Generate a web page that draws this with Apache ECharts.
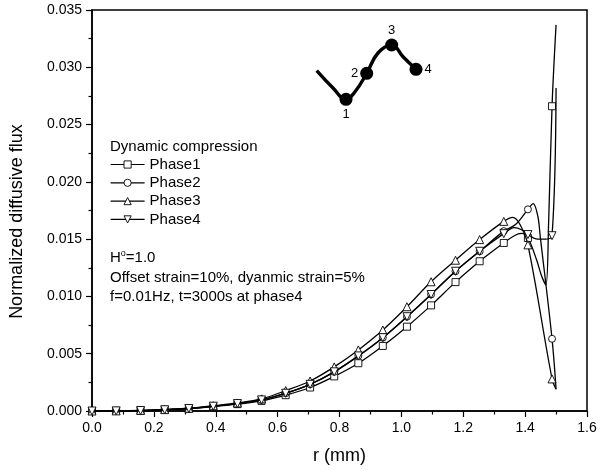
<!DOCTYPE html>
<html>
<head>
<meta charset="utf-8">
<script src="https://cdn.jsdelivr.net/npm/echarts@6/dist/echarts.min.js"></script>
<style>
  html, body { margin: 0; padding: 0; background: #fff; }
  #main { width: 600px; height: 470px; }
</style>
</head>
<body>
<div id="main"></div>
<script type="text/javascript">
// radial positions of the plotted markers (mm)
var rMarks = [0, 0.078, 0.157, 0.235, 0.313, 0.392, 0.470, 0.548, 0.626, 0.705,
              0.783, 0.861, 0.940, 1.018, 1.096, 1.175, 1.253, 1.331, 1.409, 1.487];

// normalized diffusive flux at the markers
var phase1 = [0, 0.00001, 0.00004, 0.0001, 0.0002, 0.00038, 0.0006, 0.00088, 0.00138, 0.00205,
              0.00302, 0.00417, 0.00568, 0.00736, 0.00922, 0.01125, 0.01307, 0.01467, 0.0151, 0.0266];
var phase2 = [0, 0.00001, 0.00004, 0.00011, 0.00022, 0.00042, 0.00065, 0.00097, 0.00155, 0.00233,
              0.00342, 0.00481, 0.0064, 0.00823, 0.01017, 0.0122, 0.01394, 0.0157, 0.0176, 0.0063];
var phase3 = [0, 0.00001, 0.00005, 0.00012, 0.00024, 0.00046, 0.0007, 0.00106, 0.00178, 0.00262,
              0.00385, 0.00533, 0.00707, 0.0091, 0.01128, 0.01316, 0.01496, 0.01655, 0.0145, 0.0028];
var phase4 = [0, 0.00001, 0.00004, 0.00011, 0.00022, 0.00042, 0.00065, 0.00097, 0.00155, 0.00233,
              0.00342, 0.00481, 0.0064, 0.00823, 0.01017, 0.0122, 0.01394, 0.01548, 0.0154, 0.0153];

// extra curve points between markers near the edge (no marker drawn)
var tail1R = [1.365, 1.388, 1.437, 1.453, 1.467, 1.476, 1.5];
var tail1V = [0.0153, 0.0155, 0.0132, 0.0118, 0.0110, 0.0165, 0.0337];
var tail2R = [1.37, 1.426, 1.441, 1.449, 1.5];
var tail2V = [0.0163, 0.0181, 0.0170, 0.0152, 0.0019];
var tail3R = [1.36, 1.383, 1.5];
var tail3V = [0.0169, 0.0163, 0.0019];
var tail4R = [1.365, 1.39, 1.44, 1.465, 1.5];
var tail4V = [0.0160, 0.0158, 0.0150, 0.0150, 0.0282];

var seriesNames = ['Phase1', 'Phase2', 'Phase3', 'Phase4'];
var xTicks = ['0.0', '0.2', '0.4', '0.6', '0.8', '1.0', '1.2', '1.4', '1.6'];

// inset sketch of the loading wave (arbitrary units)
var insetX = [6.7, 23, 36, 45, 56.7, 68, 81.7, 93, 106];
var insetY = [40.7, 58, 69.3, 61.7, 43.3, 23, 15, 26.7, 39.3];
var insetDots = [2, 4, 6, 8];
var insetLabels = ['1', '2', '3', '4'];

var FONT = 'Arial, "Liberation Sans", sans-serif';

function buildData(vals, tailR, tailV) {
    var pts = [];
    for (var i = 0; i < rMarks.length; i++) {
        pts.push({ value: [rMarks[i], vals[i]] });
    }
    for (var j = 0; j < tailR.length; j++) {
        pts.push({ value: [tailR[j], tailV[j]], symbolSize: 0 });
    }
    pts.sort(function (a, b) { return a.value[0] - b.value[0]; });
    return pts;
}

var myChart = echarts.init(document.getElementById('main'), null, { renderer: 'canvas' });

var symbols = ['rect', 'circle', 'triangle', 'path://M0,0 L10,0 L5,9 Z'];
var sizes = [7, 7, 8, 8];
var datas = [
    buildData(phase1, tail1R, tail1V),
    buildData(phase2, tail2R, tail2V),
    buildData(phase3, tail3R, tail3V),
    buildData(phase4, tail4R, tail4V)
];

var series = [];
for (var k = 0; k < 4; k++) {
    series.push({
        name: seriesNames[k],
        type: 'line',
        xAxisIndex: 0,
        yAxisIndex: 0,
        smooth: 0.35,
        showAllSymbol: true,
        symbol: symbols[k],
        symbolSize: sizes[k],
        lineStyle: { color: '#000', width: 1.3 },
        itemStyle: { color: '#fff', borderColor: '#000', borderWidth: 0.9 },
        data: datas[k],
        z: 3 + k
    });
}

// inset wave
var insetLine = [];
for (var m = 0; m < insetX.length; m++) insetLine.push([insetX[m], insetY[m]]);
series.push({
    type: 'line',
    xAxisIndex: 1,
    yAxisIndex: 1,
    smooth: 0.45,
    symbol: 'none',
    lineStyle: { color: '#000', width: 3.4 },
    data: insetLine,
    silent: true
});
var labelPos = ['bottom', 'left', 'top', 'right'];
var dotData = insetDots.map(function (idx, n) {
    return {
        value: [insetX[idx], insetY[idx]],
        label: { show: true, formatter: insetLabels[n], position: labelPos[n], distance: 2,
                 color: '#000', fontSize: 13, fontFamily: FONT }
    };
});
series.push({
    type: 'scatter',
    xAxisIndex: 1,
    yAxisIndex: 1,
    symbol: 'circle',
    symbolSize: 13,
    itemStyle: { color: '#000', opacity: 1 },
    data: dotData,
    silent: true,
    z: 10
});

var option = {
    animation: false,
    backgroundColor: '#fff',
    textStyle: { fontFamily: FONT },
    legend: {
        data: seriesNames,
        orient: 'vertical',
        left: 110,
        top: 157,
        padding: 0,
        itemWidth: 34,
        itemHeight: 9,
        itemGap: 3.3,
        lineStyle: { width: 1.2 },
        itemStyle: { borderWidth: 0.9 },
        textStyle: { color: '#000', fontSize: 15, fontFamily: FONT },
        selectedMode: false
    },
    graphic: [
        { type: 'text', left: 110, top: 139,
          style: { text: 'Dynamic compression', fill: '#000', font: '15px ' + FONT } },
        { type: 'text', left: 110, top: 249,
          style: { text: 'H{s|o}=1.0', fill: '#000', font: '15px ' + FONT,
                   rich: { s: { fontSize: 9, verticalAlign: 'top', padding: [0, 0, 8, 0], fontFamily: FONT } } } },
        { type: 'text', left: 110, top: 270,
          style: { text: 'Offset strain=10%, dyanmic strain=5%', fill: '#000', font: '15px ' + FONT } },
        { type: 'text', left: 110, top: 289,
          style: { text: 'f=0.01Hz, t=3000s at phase4', fill: '#000', font: '15px ' + FONT } }
    ],
    grid: [
        { left: 92, right: 13, top: 10, bottom: 58, show: true, borderColor: '#000', borderWidth: 1.5 },
        { left: 310, top: 30, width: 120, height: 80 }
    ],
    xAxis: [
        {
            type: 'value', gridIndex: 0, min: 0, max: 1.6, interval: 0.2,
            name: 'r (mm)', nameLocation: 'middle', nameGap: 36,
            nameTextStyle: { color: '#000', fontSize: 18, fontFamily: FONT },
            axisLine: { lineStyle: { color: '#000', width: 1.5 } },
            axisTick: { show: true, length: 6, lineStyle: { color: '#000', width: 1.2 } },
            minorTick: { show: true, splitNumber: 2, length: 3.5, lineStyle: { color: '#000', width: 1.2 } },
            splitLine: { show: false },
            axisLabel: { color: '#000', fontSize: 14, margin: 10, fontFamily: FONT,
                         formatter: function (v) { return xTicks[Math.round(v / 0.2)]; } }
        },
        { type: 'value', gridIndex: 1, min: 0, max: 120, show: false }
    ],
    yAxis: [
        {
            type: 'value', gridIndex: 0, min: 0, max: 0.035, interval: 0.005,
            name: 'Normalized diffusive flux', nameLocation: 'middle', nameGap: 66,
            nameTextStyle: { color: '#000', fontSize: 18, fontFamily: FONT, padding: [0, 22, 0, 0] },
            axisLine: { show: true, lineStyle: { color: '#000', width: 1.5 } },
            axisTick: { show: true, length: 6, lineStyle: { color: '#000', width: 1.2 } },
            minorTick: { show: true, splitNumber: 2, length: 3.5, lineStyle: { color: '#000', width: 1.2 } },
            splitLine: { show: false },
            axisLabel: { color: '#000', fontSize: 14, margin: 10, fontFamily: FONT,
                         formatter: function (v) { return v.toFixed(3); } }
        },
        { type: 'value', gridIndex: 1, min: 0, max: 80, inverse: true, show: false }
    ],
    series: series
};

myChart.setOption(option);
</script>
</body>
</html>
